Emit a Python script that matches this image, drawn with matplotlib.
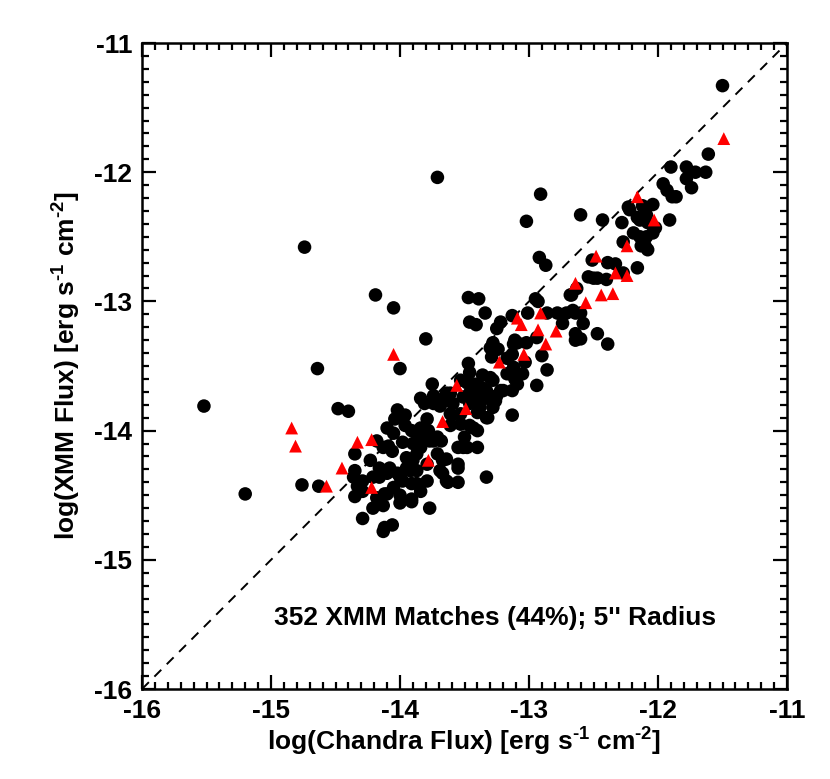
import matplotlib
matplotlib.use("Agg")
import matplotlib.pyplot as plt
from matplotlib.ticker import MultipleLocator

plt.rcParams['font.family'] = ['Liberation Sans', 'DejaVu Sans']
plt.rcParams['font.weight'] = 'bold'
plt.rcParams['axes.unicode_minus'] = False
plt.rcParams['mathtext.fontset'] = 'custom'
plt.rcParams['mathtext.bf'] = 'Liberation Sans:bold'
plt.rcParams['mathtext.rm'] = 'Liberation Sans:bold'
plt.rcParams['mathtext.default'] = 'bf'

# Matched sources: log(Chandra flux), log(XMM flux)
chandra_flux = [
    -15.52, -15.20, -14.76, -14.63, -14.74, -14.64, -14.19, -14.05, -13.80, -14.00,
    -13.75, -13.71, -14.48, -14.40, -13.47, -13.84, -13.81, -13.74, -13.64, -14.02,
    -13.96, -14.04, -13.79, -14.05, -14.18, -14.09, -14.06, -13.98, -13.91, -13.84,
    -13.78, -13.77, -13.71, -13.84, -14.35, -14.23, -14.35, -14.29, -14.33, -14.35,
    -14.12, -14.02, -13.92, -13.90, -13.67, -13.63, -13.55, -13.55, -14.12, -14.00,
    -13.91, -14.21, -14.13, -13.77, -14.29, -14.13, -14.06, -13.40, -13.51, -13.43,
    -13.46, -13.98, -13.87, -14.05, -13.47, -13.39, -13.34, -13.46, -13.41, -12.95,
    -12.93, -12.67, -13.01, -13.13, -13.22, -13.25, -12.78, -12.71, -12.64, -12.64,
    -12.64, -12.74, -12.94, -13.02, -13.09, -13.11, -13.28, -13.30, -13.13, -13.29,
    -13.17, -13.03, -12.90, -12.86, -13.46, -13.36, -13.30, -13.17, -13.11, -12.94,
    -13.09, -13.48, -13.61, -13.44, -13.33, -13.22, -13.25, -13.38, -13.40, -13.13,
    -13.66, -13.61, -13.40, -13.33, -13.28, -13.12, -13.12, -13.05, -13.13, -13.20,
    -13.65, -13.43, -13.34, -13.26, -13.32, -13.60, -13.61, -13.53, -13.46, -13.40,
    -13.50, -13.68, -13.55, -13.48, -13.64, -13.55, -13.69, -14.13, -13.87, -13.83,
    -14.36, -14.16, -14.10, -13.95, -13.87, -13.79, -13.69, -13.64, -14.29, -14.18,
    -14.10, -14.00, -13.91, -14.12, -13.24, -13.74, -12.91, -13.02, -12.60, -12.43,
    -12.28, -12.23, -12.27, -12.92, -12.87, -12.51, -12.39, -12.33, -12.27, -12.54,
    -12.50, -12.40, -12.63, -12.68, -12.86, -12.66, -12.60, -12.58, -11.96, -11.93,
    -11.89, -12.12, -12.04, -12.22, -12.16, -12.14, -12.09, -11.91, -12.08, -12.19,
    -12.14, -12.09, -12.04, -12.10, -12.08, -12.16, -12.47, -12.60, -12.47, -12.39,
    -11.50, -11.61, -11.90, -11.78, -11.71, -11.63, -11.78, -11.74, -11.86, -12.02,
    -12.13, -13.33, -14.08, -14.00, -13.91, -13.84, -13.95, -13.87, -13.79, -13.71,
    -13.67, -13.74, -13.90, -14.16, -14.21, -13.53, -13.43, -13.36, -13.28, -13.51,
    -13.38, -13.46, -13.28, -13.59, -13.53, -13.96, -14.10,
]
xmm_flux = [
    -13.81, -14.49, -14.42, -14.43, -12.58, -13.52, -12.95, -13.05, -13.29, -13.52,
    -13.64, -12.04, -13.83, -13.85, -13.48, -13.75, -13.79, -13.79, -13.71, -13.84,
    -13.88, -13.91, -13.91, -14.02, -14.08, -14.12, -14.16, -14.09, -14.00, -13.98,
    -14.00, -14.08, -14.05, -14.13, -14.18, -14.23, -14.31, -14.39, -14.43, -14.51,
    -14.31, -14.33, -14.31, -14.23, -14.33, -14.40, -14.40, -14.29, -14.49, -14.56,
    -14.53, -14.60, -14.58, -14.60, -14.68, -14.78, -14.73, -14.13, -14.13, -13.98,
    -13.71, -14.39, -14.41, -14.44, -12.97, -12.98, -13.09, -13.16, -13.18, -12.98,
    -13.00, -12.95, -13.09, -13.11, -13.16, -13.21, -13.09, -13.09, -13.09, -13.25,
    -13.30, -13.17, -13.28, -13.32, -13.32, -13.30, -13.32, -13.36, -13.41, -13.43,
    -13.44, -13.47, -13.42, -13.53, -13.55, -13.57, -13.59, -13.56, -13.60, -13.65,
    -13.64, -13.63, -13.71, -13.69, -13.69, -13.69, -13.73, -13.74, -13.64, -13.88,
    -13.75, -13.87, -13.86, -13.90, -13.34, -13.33, -13.51, -13.56, -13.69, -13.69,
    -13.77, -13.73, -13.75, -13.77, -13.90, -13.88, -13.96, -13.95, -13.96, -14.00,
    -14.05, -14.08, -14.13, -14.13, -14.22, -14.26, -13.81, -14.13, -14.02, -14.05,
    -14.36, -14.36, -14.33, -14.29, -14.31, -14.39, -14.31, -14.39, -14.47, -14.52,
    -14.49, -14.50, -14.55, -14.75, -13.37, -13.73, -12.17, -12.38, -12.33, -12.37,
    -12.39, -12.27, -12.54, -12.66, -12.72, -12.68, -12.70, -12.71, -12.78, -12.81,
    -12.82, -12.83, -12.90, -12.95, -13.09, -13.07, -13.09, -13.17, -12.09, -12.14,
    -12.19, -12.26, -12.25, -12.29, -12.35, -12.37, -12.33, -12.37, -12.39, -12.47,
    -12.50, -12.50, -12.47, -12.57, -12.60, -12.74, -12.82, -13.29, -13.25, -13.33,
    -11.33, -11.86, -11.96, -11.96, -12.00, -12.00, -12.05, -12.12, -12.19, -12.43,
    -12.57, -14.36, -14.29, -14.36, -14.41, -14.47, -14.21, -14.18, -14.26, -14.18,
    -14.23, -14.08, -14.10, -14.29, -14.36, -13.61, -13.64, -13.67, -13.61, -13.74,
    -13.82, -13.79, -13.82, -13.79, -13.87, -13.96, -13.98,
]

# Flagged sources (red triangles)
chandra_flag = [
    -14.84, -14.81, -14.57, -14.45, -14.33, -14.22, -14.22, -14.05, -13.78, -13.67,
    -13.56, -13.49, -13.23, -13.04, -13.09, -13.06, -12.91, -12.93, -12.79, -12.87,
    -12.64, -12.48, -12.33, -12.24, -12.24, -12.16, -12.03, -11.49, -12.56, -12.44,
    -12.35,
]
xmm_flag = [
    -13.98, -14.12, -14.43, -14.29, -14.09, -14.07, -14.44, -13.41, -14.23, -13.93,
    -13.65, -13.83, -13.47, -13.41, -13.13, -13.18, -13.09, -13.22, -13.23, -13.33,
    -12.86, -12.65, -12.78, -12.80, -12.57, -12.19, -12.37, -11.74, -13.01, -12.95,
    -12.94,
]

fig = plt.figure(figsize=(8.3, 7.79), dpi=100)
ax = fig.add_axes([0.1711, 0.1155, 0.7771, 0.8293])

ax.plot([-16, -11], [-16, -11], color='black', lw=1.4, ls=(0, (5, 4)), zorder=1)
ax.scatter(chandra_flux, xmm_flux, s=95, color='black', edgecolors='none', zorder=2)
ax.scatter(chandra_flag, xmm_flag, s=85, marker='^', color='red', edgecolors='none', zorder=3)

ax.set_xlim(-16, -11)
ax.set_ylim(-16, -11)
ax.xaxis.set_major_locator(MultipleLocator(1))
ax.yaxis.set_major_locator(MultipleLocator(1))
ax.xaxis.set_minor_locator(MultipleLocator(0.1))
ax.yaxis.set_minor_locator(MultipleLocator(0.1))
ax.tick_params(which='both', direction='in', top=True, right=True, width=1.6, color='black')
ax.tick_params(which='major', length=10, labelsize=19, pad=7)
ax.tick_params(which='minor', length=5)
for s in ax.spines.values():
    s.set_linewidth(1.8)

ax.set_xlabel(r"log(Chandra Flux) [erg s$^{\text{-1}}$ cm$^{\text{-2}}$]", fontsize=19,
              fontweight='bold', labelpad=2)
ax.set_ylabel(r"log(XMM Flux) [erg s$^{\text{-1}}$ cm$^{\text{-2}}$]", fontsize=19,
              fontweight='bold', labelpad=8)

ax.text(-13.26, -15.45, "352 XMM Matches (44%); 5'' Radius", fontsize=19, fontweight='bold',
        ha='center', va='center')

fig.savefig("out.png", dpi=100)
